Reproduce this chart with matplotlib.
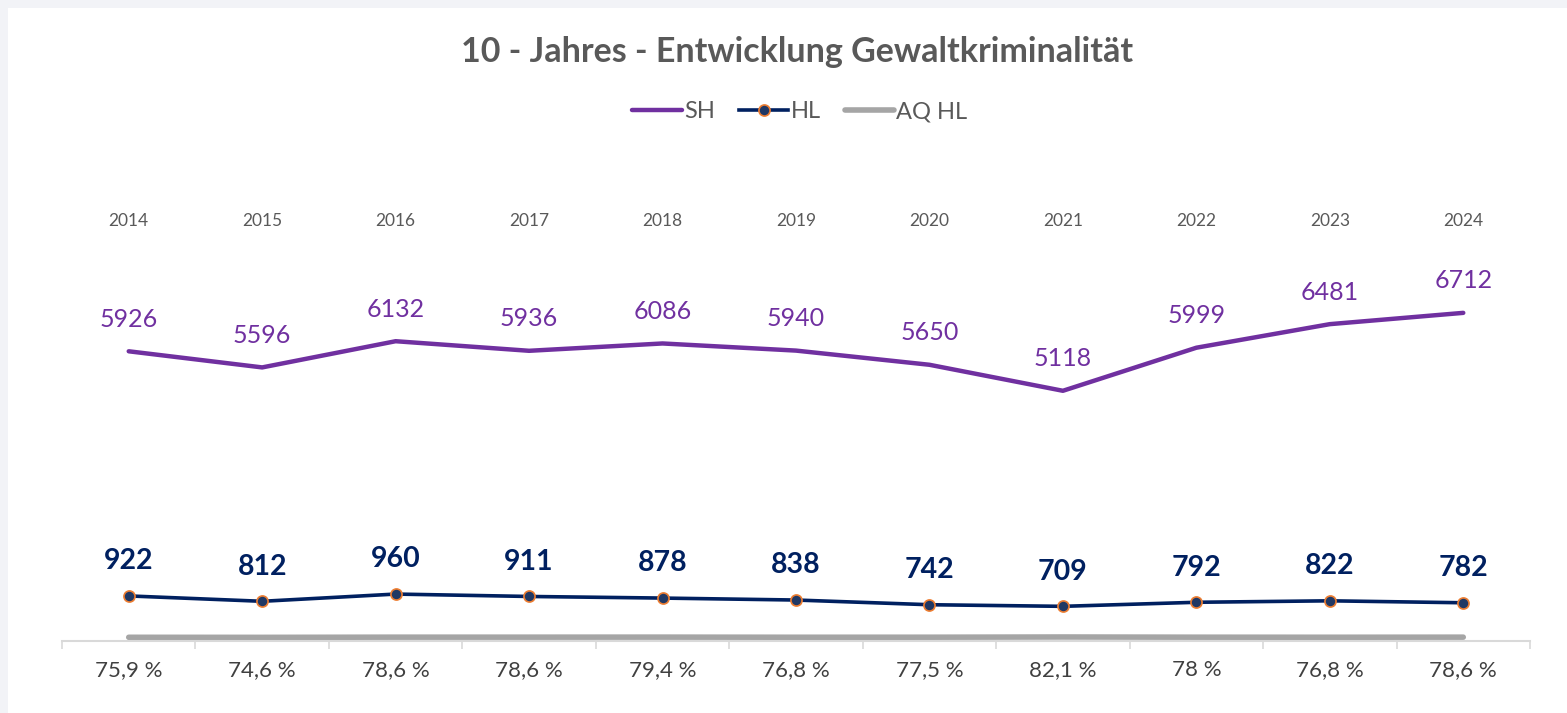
import matplotlib
matplotlib.use("Agg")
import matplotlib.pyplot as plt
from matplotlib.patches import Rectangle
from matplotlib.lines import Line2D
import numpy as np

plt.rcParams["font.family"] = ["Lato", "DejaVu Sans"]

years = ["2014", "2015", "2016", "2017", "2018", "2019", "2020", "2021", "2022", "2023", "2024"]
sh = [5926, 5596, 6132, 5936, 6086, 5940, 5650, 5118, 5999, 6481, 6712]
hl = [922, 812, 960, 911, 878, 838, 742, 709, 792, 822, 782]
aq_hl = [75.9, 74.6, 78.6, 78.6, 79.4, 76.8, 77.5, 82.1, 78, 76.8, 78.6]
aq_labels = ["75,9 %", "74,6 %", "78,6 %", "78,6 %", "79,4 %", "76,8 %",
             "77,5 %", "82,1 %", "78 %", "76,8 %", "78,6 %"]

C_SH = "#7030A0"
C_HL = "#002060"
C_AQ = "#A5A5A5"
C_TXT = "#595959"

W, H = 1567, 713
fig = plt.figure(figsize=(W / 100, H / 100), dpi=100)
fig.patch.set_facecolor("#F2F3F7")
fig.add_artist(Rectangle((8 / W, 0), 1, 1 - 8 / H, transform=fig.transFigure,
                         facecolor="white", edgecolor="none", zorder=-10))

ax = fig.add_axes([62 / W, 72 / H, (1530 - 62) / W, (641 - 201) / H])
ax.set_facecolor("none")
x = np.arange(len(years))

ax.plot(x, aq_hl, color=C_AQ, lw=4, solid_capstyle="round", zorder=2)
ax.plot(x, sh, color=C_SH, lw=3.2, solid_capstyle="round", zorder=3)
ax.plot(x, hl, color=C_HL, lw=2.6, marker="o", ms=8, mfc="#203864",
        mec="#ED7D31", mew=1.2, zorder=4)

for i in x:
    ax.annotate(str(sh[i]), (i, sh[i]), xytext=(0, 23), textcoords="offset points",
                ha="center", va="center", color=C_SH, fontsize=18)
    ax.annotate(str(hl[i]), (i, hl[i]), xytext=(0, 25), textcoords="offset points",
                ha="center", va="center", color=C_HL, fontsize=20.5, fontweight="bold")
    ax.text(i, 0.955, years[i], transform=ax.get_xaxis_transform(),
            ha="center", va="center", color=C_TXT, fontsize=12.5)

ax.set_xlim(-0.5, len(years) - 0.5)
ax.set_ylim(0, 9000)
ax.set_yticks([])
ax.set_xticks(x)
ax.set_xticklabels(aq_labels, fontsize=16, color="#404040")
ax.set_xticks(np.arange(-0.5, len(years)), minor=True)
ax.tick_params(axis="x", which="major", length=0, pad=14)
ax.tick_params(axis="x", which="minor", length=6, width=1.2, color="#D9D9D9")
for s in ["top", "right", "left"]:
    ax.spines[s].set_visible(False)
ax.spines["bottom"].set_color("#D9D9D9")
ax.spines["bottom"].set_linewidth(1.5)

fig.text(797 / W, 1 - 52 / H, "10 - Jahres - Entwicklung Gewaltkriminalität",
         ha="center", va="center", fontsize=24.5, fontweight="bold", color=C_TXT)

handles = [
    Line2D([], [], color=C_SH, lw=3.2, solid_capstyle="round"),
    Line2D([], [], color=C_HL, lw=2.6, marker="o", ms=8, mfc="#203864", mec="#ED7D31", mew=1.2),
    Line2D([], [], color=C_AQ, lw=4, solid_capstyle="round"),
]
leg = fig.legend(handles, ["SH", "HL", "AQ HL"], loc="center", bbox_to_anchor=(800 / W, 1 - 112 / H),
                 ncol=3, frameon=False, fontsize=17, handlelength=2.1, handletextpad=0.1,
                 columnspacing=1.0)
for t in leg.get_texts():
    t.set_color(C_TXT)

fig.savefig("out.png", dpi=100, facecolor=fig.get_facecolor())
